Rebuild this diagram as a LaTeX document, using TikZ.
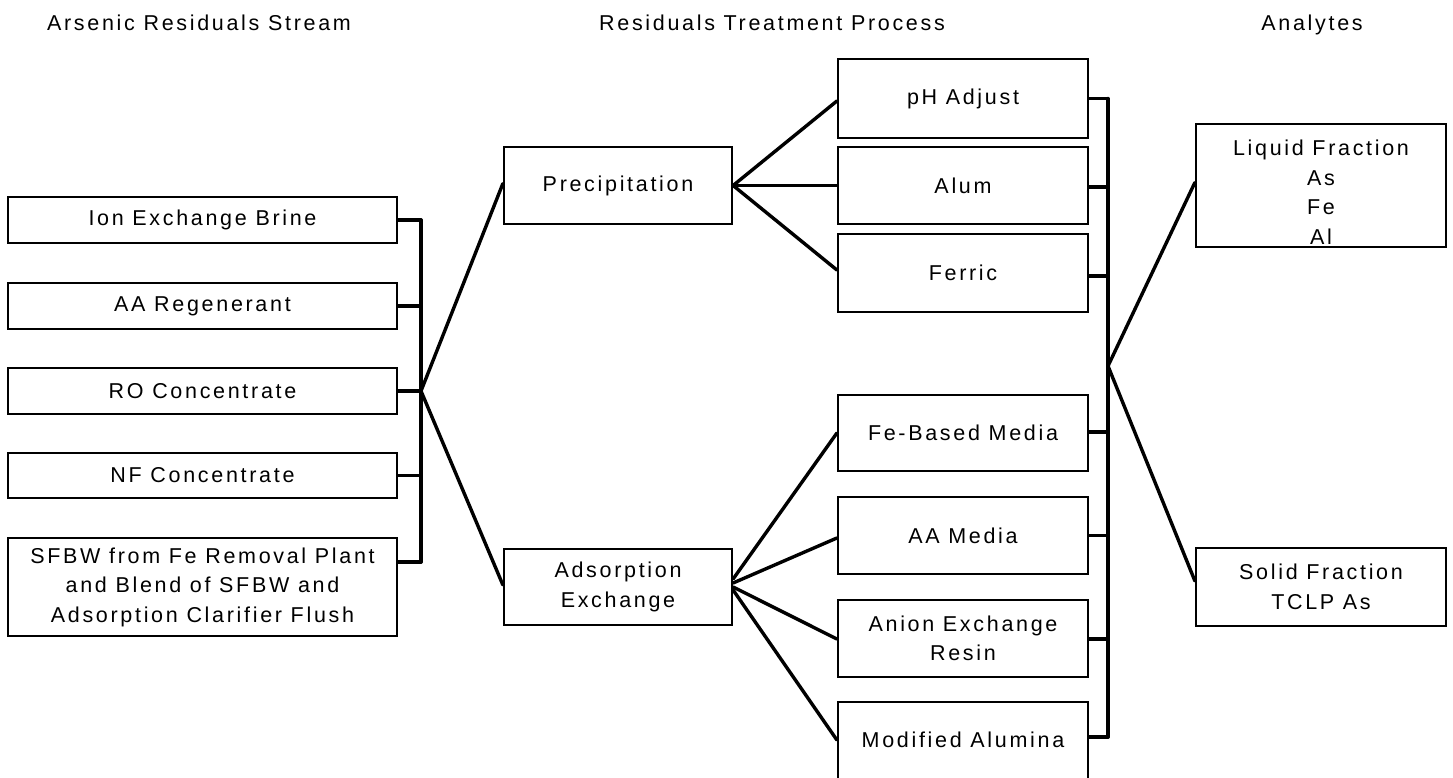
\documentclass[tikz,border=0pt]{standalone}
\usepackage{fontspec}
\setmainfont{Liberation Sans}[LetterSpace=12.5]
\begin{document}
\begin{tikzpicture}[x=1pt,y=-1pt,
  txt/.style={font=\fontsize{21.5}{29.5}\selectfont, inner sep=0pt, align=center},
  box/.style={txt, draw, line width=2.2pt, minimum width=389pt},
  mbox/.style={txt, draw, line width=2.2pt, minimum width=228pt},
  pbox/.style={txt, draw, line width=2.2pt, minimum width=250pt},
  abox/.style={txt, draw, line width=2.2pt, minimum width=250pt},
  link/.style={line width=3.4pt, line cap=round, line join=round}]
\useasboundingbox (0,0) rectangle (1453,778);
\fill[white] (0,0) rectangle (1453,778);

% titles
\node[txt, anchor=base] (t1) at (199,30.5) {Arsenic Residuals Stream};
\node[txt, anchor=base] (t2) at (772,30.5) {Residuals Treatment Process};
\node[txt, anchor=base] (t3) at (1312,30.5) {Analytes};

% left column
\node[box, minimum height=46pt] (ion) at (202.5,220) {Ion Exchange Brine};
\node[box, minimum height=46pt] (aar) at (202.5,306) {AA Regenerant};
\node[box, minimum height=46pt] (ro) at (202.5,391) {RO Concentrate};
\node[box, minimum height=45pt] (nf) at (202.5,475.5) {NF Concentrate};
\node[box, minimum height=98pt] (sfbw) at (202.5,587) {SFBW from Fe Removal Plant\\and Blend of SFBW and\\Adsorption Clarifier Flush};

% middle column
\node[mbox, minimum height=77pt] (prec) at (618,185.5) {Precipitation};
\node[mbox, minimum height=76pt] (ads) at (618,587) {Adsorption\\Exchange};

% process column
\node[pbox, minimum height=79pt] (ph) at (963,98.5) {pH Adjust};
\node[pbox, minimum height=77pt] (alum) at (963,185.5) {Alum};
\node[pbox, minimum height=78pt] (ferric) at (963,273) {Ferric};
\node[pbox, minimum height=76pt] (feb) at (963,433) {Fe-Based Media};
\node[pbox, minimum height=77pt] (aam) at (963,535.5) {AA Media};
\node[pbox, minimum height=77pt] (anion) at (963,638.5) {Anion Exchange\\Resin};
\node[pbox, minimum height=78pt] (modal) at (963,741) {};
\node[txt] (modaltxt) at (963,740) {Modified Alumina};

% analytes
\node[abox, minimum height=123pt] (liq) at (1321,185.5) {};
\node[txt, text depth=0pt] (liqtxt) at (1321,192) {Liquid Fraction\\As\\Fe\\Al};
\node[abox, minimum height=78pt] (sol) at (1321,587) {Solid Fraction\\TCLP As};

% buses
\coordinate (lj) at (421,391);
\coordinate (rj) at (1108,366);
\draw[link] (ion.east) -- (ion.east -| lj);
\draw[link] (aar.east) -- (aar.east -| lj);
\draw[link] (ro.east) -- (lj);
\draw[link] (nf.east) -- (nf.east -| lj);
\draw[link] ([yshift=25pt]sfbw.east) -- ([yshift=25pt]sfbw.east -| lj);
\draw[link] (ion.east -| lj) -- ([yshift=25pt]sfbw.east -| lj);

\draw[link] (lj) -- ([yshift=2pt]prec.west);
\draw[link] (lj) -- ([yshift=2pt]ads.west);

\draw[link] (prec.east) -- ([yshift=-2.5pt]ph.west);
\draw[link] (prec.east) -- (alum.west);
\draw[link] (prec.east) -- ([yshift=3pt]ferric.west);

\draw[link] ([yshift=8pt]ads.east) -- (feb.west);
\draw[link] ([yshift=4pt]ads.east) -- ([yshift=-2.5pt]aam.west);
\draw[link] (ads.east) -- ([yshift=-0.5pt]anion.west);
\draw[link] ([yshift=-3pt]ads.east) -- ([yshift=1pt]modal.west);

\draw[link] (ph.east) -- (ph.east -| rj);
\draw[link] ([yshift=-1.5pt]alum.east) -- ([yshift=-1.5pt]alum.east -| rj);
\draw[link] ([yshift=-3pt]ferric.east) -- ([yshift=-3pt]ferric.east -| rj);
\draw[link] ([yshift=1pt]feb.east) -- ([yshift=1pt]feb.east -| rj);
\draw[link] (aam.east) -- (aam.east -| rj);
\draw[link] ([yshift=-0.5pt]anion.east) -- ([yshift=-0.5pt]anion.east -| rj);
\draw[link] ([yshift=4pt]modal.east) -- ([yshift=4pt]modal.east -| rj);
\draw[link] (ph.east -| rj) -- ([yshift=4pt]modal.east -| rj);

\draw[link] (rj) -- ([yshift=3pt]liq.west);
\draw[link] (rj) -- ([yshift=6pt]sol.west);
\end{tikzpicture}
\end{document}
